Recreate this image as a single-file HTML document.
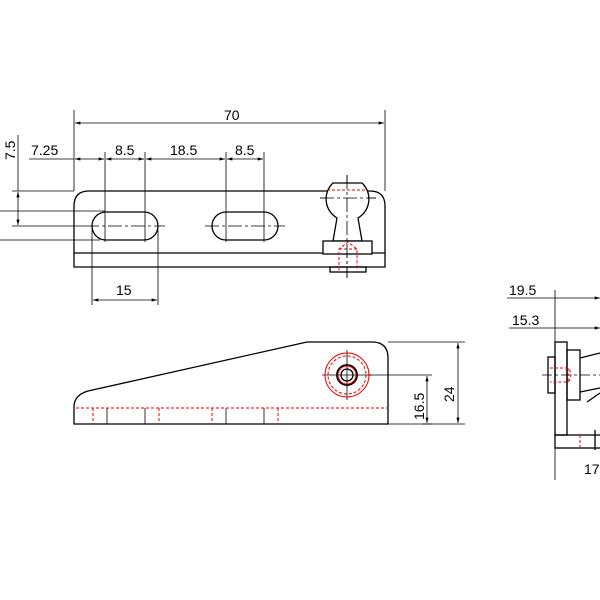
<!DOCTYPE html>
<html><head><style>body{margin:0;background:#fff}svg{display:block}text{font-family:"Liberation Sans",sans-serif;font-size:14px;fill:#000}</style></head>
<body>
<svg width="600" height="600" viewBox="0 0 600 600" xmlns="http://www.w3.org/2000/svg">
<defs><marker id="a" viewBox="0 0 10 6" refX="10" refY="3" markerWidth="8" markerHeight="4" orient="auto-start-reverse"><path d="M0,0L10,3L0,6z" fill="#000"/></marker></defs>
<g stroke="#000" stroke-width="1.3" fill="none">
<!-- top view -->
<path d="M74,267V206Q74,191 89,191H370Q385,191 385,206V267H74Z"/>
<line x1="74" y1="253" x2="385" y2="253"/>
<path d="M106,212H144A14,14 0 0 1 144,240H106A14,14 0 0 1 106,212Z"/>
<path d="M226,212H264A14,14 0 0 1 264,240H226A14,14 0 0 1 226,212Z"/>
<g stroke-width="0.8">
<line x1="74" y1="110" x2="74" y2="191"/><line x1="385" y1="110" x2="385" y2="191"/>
<line x1="105" y1="152" x2="105" y2="242"/><line x1="145" y1="152" x2="145" y2="242"/>
<line x1="226" y1="152" x2="226" y2="242"/><line x1="264" y1="152" x2="264" y2="242"/>
<line x1="92" y1="230" x2="92" y2="305"/><line x1="158" y1="230" x2="158" y2="305"/>
<line x1="12" y1="191" x2="74" y2="191"/><line x1="0" y1="211" x2="105" y2="211"/>
<line x1="0" y1="240" x2="100" y2="240"/><line x1="12" y1="226" x2="85" y2="226"/>
<line x1="18" y1="135" x2="18" y2="191"/>
</g>
<g stroke-width="0.8" stroke-dasharray="14,3,3,3">
<line x1="85" y1="226" x2="165" y2="226"/><line x1="205" y1="226" x2="285" y2="226"/>
<line x1="320" y1="198" x2="376" y2="198"/><line x1="347" y1="175" x2="347" y2="278"/>
</g>
<g stroke-width="0.8" marker-start="url(#a)" marker-end="url(#a)">
<line x1="75" y1="123" x2="384" y2="123"/>
<line x1="75" y1="159" x2="104" y2="159"/><line x1="106" y1="159" x2="144" y2="159"/>
<line x1="146" y1="159" x2="225" y2="159"/><line x1="227" y1="159" x2="263" y2="159"/>
<line x1="93" y1="300" x2="157" y2="300"/>
<line x1="18" y1="192" x2="18" y2="225"/>
</g>
<line x1="29" y1="159" x2="74" y2="159" stroke-width="0.8"/>
<!-- ball -->
<path d="M333,183H362A22,22 0 0 1 358,218L362,241H333L337,218A22,22 0 0 1 333,183Z" fill="#fff"/>
<rect x="323" y="241" width="49" height="13" fill="#fff"/>
<rect x="330" y="267" width="36" height="5"/>
<!-- side view -->
<path d="M74,424V407Q74,395 88,391L307,342H372Q388,342 388,358V424Z"/>
<circle cx="347" cy="375" r="10" stroke-width="1.8"/><circle cx="347" cy="375" r="6"/>
<g stroke-width="0.8">
<line x1="388" y1="342" x2="465" y2="342"/><line x1="388" y1="424" x2="465" y2="424"/>
<line x1="368" y1="375" x2="432" y2="375"/><line x1="422" y1="424" x2="432" y2="424"/>
<line x1="322" y1="375" x2="372" y2="375"/><line x1="347" y1="350" x2="347" y2="400"/>
<line x1="107" y1="408" x2="107" y2="424"/><line x1="145" y1="408" x2="145" y2="424"/>
<line x1="226" y1="408" x2="226" y2="424"/><line x1="264" y1="408" x2="264" y2="424"/>
</g>
<g stroke-width="0.8" marker-start="url(#a)" marker-end="url(#a)">
<line x1="458" y1="343" x2="458" y2="423"/><line x1="427" y1="376" x2="427" y2="423"/>
</g>
<!-- right view -->
<line x1="555" y1="290" x2="555" y2="480" stroke-width="0.8"/>
<g stroke-width="0.8" marker-end="url(#a)">
<line x1="507" y1="298" x2="600" y2="298"/><line x1="509" y1="328" x2="600" y2="328"/>
</g>
<rect x="555" y="342" width="12" height="93"/>
<rect x="567" y="350" width="13" height="50"/>
<rect x="548" y="357" width="7" height="36"/>
<rect x="555" y="435" width="50" height="13"/>
<line x1="580" y1="358" x2="600" y2="353"/><line x1="580" y1="392" x2="600" y2="388"/>
<line x1="587" y1="402" x2="600" y2="393"/>
<line x1="595" y1="430" x2="595" y2="450"/>
<line x1="542" y1="375" x2="600" y2="375" stroke-width="0.8" stroke-dasharray="10,3,3,3"/>
</g>
<g stroke="#e00" stroke-width="1" fill="none" stroke-dasharray="3,2">
<line x1="327" y1="190" x2="368" y2="190"/>
<path d="M339,270V249L348,242L357,249V270M339,249H357"/>
<circle cx="347" cy="375" r="22" stroke-dasharray="none"/><circle cx="347" cy="375" r="19"/><circle cx="347" cy="375" r="9" stroke-dasharray="none"/>
<line x1="76" y1="408" x2="388" y2="408"/>
<line x1="93" y1="408" x2="93" y2="424"/><line x1="159" y1="408" x2="159" y2="424"/>
<line x1="212" y1="408" x2="212" y2="424"/><line x1="278" y1="408" x2="278" y2="424"/>
<path d="M550,368H568Q574,375 568,382H550M568,368V382"/>
<line x1="580" y1="435" x2="580" y2="448"/>
</g>
<g stroke="#000" stroke-width="0.8" stroke-dasharray="14,3,3,3"><line x1="347" y1="175" x2="347" y2="278"/><line x1="320" y1="198" x2="376" y2="198"/></g>
<text x="224" y="120">70</text>
<text x="31" y="155">7.25</text><text x="115" y="155">8.5</text><text x="170" y="155">18.5</text><text x="235" y="155">8.5</text>
<text x="116" y="295">15</text>
<text transform="translate(15,160) rotate(-90)">7.5</text>
<text transform="translate(424,420) rotate(-90)">16.5</text>
<text transform="translate(454,402) rotate(-90)">24</text>
<text x="509" y="295">19.5</text><text x="512" y="325">15.3</text>
<text x="584" y="474">17</text>
</svg>
</body></html>
